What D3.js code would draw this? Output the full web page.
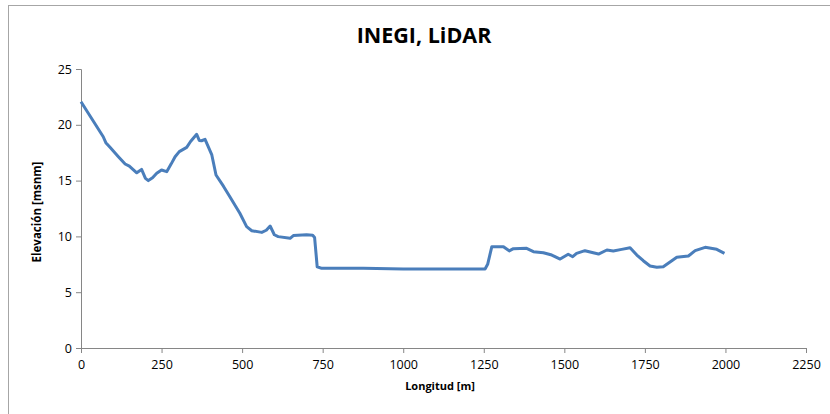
<!DOCTYPE html>
<html><head><meta charset="utf-8">
<script src="https://cdn.jsdelivr.net/npm/d3@7"></script>
<style>body{margin:0;background:#fff}svg{display:block}</style>
</head><body>
<svg id="c" width="830" height="414"></svg>
<script>
const title = "INEGI, LiDAR";
const xLabel = "Longitud [m]";
const yLabel = "Elevación [msnm]";
const xTicks = [0,250,500,750,1000,1250,1500,1750,2000,2250];
const yTicks = [0,5,10,15,20,25];
const distance = [0,69,77,90,116,137,150,173,188,200,209,222,235,250,266,280,292,305,328,340,359,367,374,385,406,419,442,462,493,514,530,561,575,587,600,612,649,659,700,719,725,733,747,876,1000,1249,1254,1262,1275,1311,1329,1342,1383,1404,1435,1461,1487,1512,1526,1538,1564,1606,1632,1652,1678,1704,1725,1745,1766,1787,1807,1849,1885,1906,1937,1973,1997];
const elevation = [22.07,18.93,18.4,17.98,17.14,16.49,16.3,15.7,16.0,15.2,15.0,15.25,15.65,15.95,15.8,16.5,17.14,17.6,17.98,18.5,19.15,18.6,18.57,18.7,17.3,15.5,14.5,13.56,12.07,10.87,10.51,10.36,10.55,10.93,10.15,9.98,9.83,10.07,10.15,10.1,9.9,7.28,7.14,7.14,7.08,7.08,7.08,7.5,9.08,9.08,8.7,8.9,8.93,8.63,8.54,8.33,7.97,8.4,8.18,8.48,8.72,8.42,8.78,8.69,8.84,8.99,8.33,7.82,7.35,7.23,7.28,8.13,8.24,8.72,9.02,8.84,8.48];

const svg = d3.select("#c");
const font = "'Open Sans', sans-serif";
svg.append("rect").attr("x",8.5).attr("y",5.5).attr("width",840).attr("height",420)
  .attr("fill","#fff").attr("stroke","#a6a6a6").attr("stroke-width",1);

const x = d3.scaleLinear().domain([0,2250]).range([81,806]);
const y = d3.scaleLinear().domain([0,25]).range([348,69]);

const xa = svg.append("g").attr("transform","translate(0,348)")
  .call(d3.axisBottom(x).tickValues(xTicks).tickSize(5).tickPadding(7).tickFormat(d3.format("d")));
const ya = svg.append("g").attr("transform","translate(81,0)")
  .call(d3.axisLeft(y).tickValues(yTicks).tickSize(5).tickPadding(4).tickFormat(d3.format("d")));
[xa,ya].forEach(g=>{
  g.select(".domain").attr("stroke","#868686");
  g.selectAll(".tick line").attr("stroke","#868686");
  g.selectAll("text").attr("font-family",font).attr("font-size",12.5).attr("fill","#000");
});

const line = d3.line().x((d,i)=>x(distance[i])).y(d=>y(d)).curve(d3.curveLinear);
svg.append("path").datum(elevation).attr("d",line).attr("fill","none")
  .attr("stroke","#4a7ebb").attr("stroke-width",3).attr("stroke-linejoin","round");

svg.append("text").attr("x",424).attr("y",43).attr("text-anchor","middle")
  .attr("font-family",font).attr("font-weight","bold").attr("font-size",21.5).text(title);
svg.append("text").attr("x",440).attr("y",390).attr("text-anchor","middle")
  .attr("font-family",font).attr("font-weight","bold").attr("font-size",11).text(xLabel);
svg.append("text").attr("transform","translate(41,212) rotate(-90)").attr("text-anchor","middle")
  .attr("font-family",font).attr("font-weight","bold").attr("font-size",11.5).text(yLabel);
</script>
</body></html>
